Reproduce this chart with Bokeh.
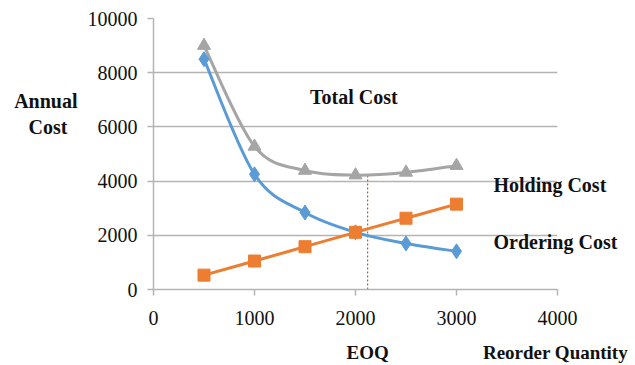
from bokeh.plotting import figure
from bokeh.models import Label, FixedTicker, LinearAxis
from bokeh.embed import file_html
from bokeh.resources import INLINE

# ---- data ----
quantity = [500, 1000, 1500, 2000, 2500, 3000]
holding_cost = [8500, 4250, 2840, 2110, 1700, 1410]
ordering_cost = [530, 1050, 1580, 2110, 2630, 3150]
total_cost = [9000, 5280, 4390, 4220, 4320, 4570]
eoq = 2120
eoq_cost = 4220
x_ticks = [0, 1000, 2000, 3000, 4000]
y_ticks = [0, 2000, 4000, 6000, 8000, 10000]

BLUE = "#5B9BD5"
ORANGE = "#ED7D31"
GRAY = "#A5A5A5"
GRID = "#B4B4B4"
FONT = "Liberation Serif"
TXT = "#111111"

p = figure(width=635, height=365, x_range=(0, 4000), y_range=(0, 10000),
           output_backend="svg", toolbar_location=None,
           min_border_left=153, min_border_right=78,
           min_border_top=18, min_border_bottom=76)
p.outline_line_color = None
p.background_fill_color = "white"
p.border_fill_color = "white"

p.xgrid.grid_line_color = None
p.ygrid.grid_line_color = GRID
p.ygrid.grid_line_width = 1.5

for ax, ticks in ((p.xaxis, x_ticks), (p.yaxis, y_ticks)):
    ax.ticker = FixedTicker(ticks=ticks)
    ax.axis_line_color = GRID
    ax.axis_line_width = 1.5
    ax.major_tick_line_color = GRID
    ax.major_tick_line_width = 1.5
    ax.major_tick_out = 6
    ax.major_tick_in = 0
    ax.minor_tick_line_color = None
    ax.major_label_text_font = FONT
    ax.major_label_text_font_size = "20px"
    ax.major_label_text_color = TXT
p.xaxis.major_label_standoff = 15
p.yaxis.major_label_standoff = 10


def text_axis(ticks, labels, side, standoff, align, size="20px"):
    """Axis carrying only bold text labels (no line, no ticks)."""
    ax = LinearAxis(ticker=FixedTicker(ticks=ticks),
                    major_label_overrides=dict(zip(ticks, labels)),
                    axis_line_color=None, major_tick_line_color=None,
                    minor_tick_line_color=None,
                    major_label_standoff=standoff,
                    major_label_text_font=FONT,
                    major_label_text_font_style="bold",
                    major_label_text_font_size=size,
                    major_label_text_color=TXT,
                    major_label_text_align=align)
    p.add_layout(ax, side)
    return ax


# y-axis title ("Annual" / "Cost"), second line padded to look centred
text_axis([6970, 5980], ["Annual", "Cost\u00a0\u00a0"], "left", 1, "center")
# x-axis titles (EOQ under the EOQ line, Reorder Quantity at the right)
text_axis([eoq, 3980], ["EOQ", "Reorder Quantity"], "below", 8, "center",
          size="19px")
# curve names at the right
text_axis([3840, 1740], ["Holding Cost", "Ordering Cost"], "right", -70,
          "left")


def smooth(xs, ys):
    """Bezier control points (Excel-style smoothing) from data points."""
    n = len(xs)
    x0, y0, x1, y1, cx0, cy0, cx1, cy1 = [], [], [], [], [], [], [], []
    for i in range(n - 1):
        ip = max(i - 1, 0)
        inn = min(i + 2, n - 1)
        x0.append(xs[i]); y0.append(ys[i])
        x1.append(xs[i + 1]); y1.append(ys[i + 1])
        cx0.append(xs[i] + (xs[i + 1] - xs[ip]) / 6)
        cy0.append(ys[i] + (ys[i + 1] - ys[ip]) / 6)
        cx1.append(xs[i + 1] - (xs[inn] - xs[i]) / 6)
        cy1.append(ys[i + 1] - (ys[inn] - ys[i]) / 6)
    return dict(x0=x0, y0=y0, x1=x1, y1=y1, cx0=cx0, cy0=cy0, cx1=cx1, cy1=cy1)


# EOQ dotted line
p.line([eoq, eoq], [0, eoq_cost], line_color="#B8642E", line_width=1.2,
       line_dash="2 2")

# total cost (gray)
p.bezier(**smooth(quantity, total_cost), line_color=GRAY, line_width=3)
p.scatter(quantity, total_cost, marker="triangle", size=13,
          fill_color=GRAY, line_color=GRAY)

# holding cost (blue)
p.bezier(**smooth(quantity, holding_cost), line_color=BLUE, line_width=3)
p.scatter(quantity, holding_cost, marker="diamond", size=15,
          fill_color=BLUE, line_color=BLUE)

# ordering cost (orange)
p.bezier(**smooth(quantity, ordering_cost), line_color=ORANGE, line_width=3)
p.scatter(quantity, ordering_cost, marker="square", size=12,
          fill_color=ORANGE, line_color=ORANGE)

p.add_layout(Label(x=1550, y=7100, text="Total Cost", text_font=FONT,
                   text_font_style="bold", text_font_size="20px",
                   text_color=TXT, text_baseline="middle"))

open("out.html", "w").write(file_html(p, INLINE))
